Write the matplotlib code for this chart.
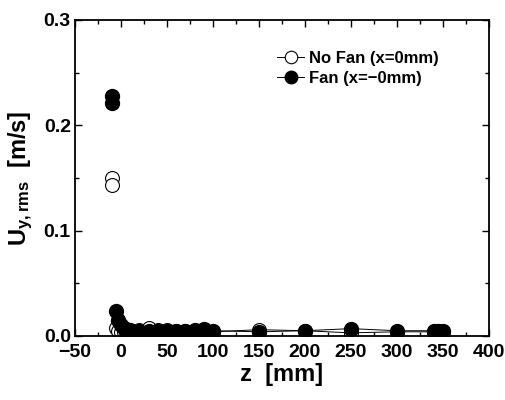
import matplotlib
matplotlib.use("Agg")
import matplotlib.pyplot as plt
from matplotlib.ticker import MultipleLocator, FormatStrFormatter

# Data
z_nofan = [-10, -10, -5, -3, 0, 3, 5, 10, 20, 30, 40, 50, 60, 70, 80, 90, 100, 150, 200, 250, 300, 340, 345, 350]
u_nofan = [0.150, 0.143, 0.008, 0.005, 0.004, 0.004, 0.004, 0.005, 0.006, 0.008, 0.006, 0.006, 0.005, 0.005, 0.005, 0.006, 0.004, 0.006, 0.005, 0.003, 0.004, 0.004, 0.004, 0.004]
z_fan = [-10, -10, -5, -3, 0, 3, 5, 10, 20, 30, 40, 50, 60, 70, 80, 90, 100, 150, 200, 250, 300, 340, 345, 350]
u_fan = [0.228, 0.221, 0.024, 0.015, 0.010, 0.008, 0.006, 0.006, 0.005, 0.005, 0.005, 0.005, 0.005, 0.005, 0.006, 0.007, 0.005, 0.004, 0.005, 0.007, 0.005, 0.005, 0.005, 0.005]

plt.rcParams['font.family'] = ['Liberation Sans', 'DejaVu Sans']
plt.rcParams['mathtext.fontset'] = 'custom'
plt.rcParams['mathtext.rm'] = 'Liberation Sans:bold'
plt.rcParams['mathtext.it'] = 'Liberation Sans:bold'

fig = plt.figure(figsize=(5.05, 4.0), dpi=100)
ax = fig.add_axes([0.1485, 0.16, 0.8195, 0.79])

# lines (upper isolated points are not connected)
ax.plot(z_nofan[2:], u_nofan[2:], '-', color='black', lw=0.7)
ax.plot(z_fan[2:], u_fan[2:], '-', color='black', lw=0.7)
ax.plot(z_nofan, u_nofan, 'o', mfc='white', mec='black', ms=10, mew=0.8)
ax.plot(z_fan, u_fan, 'o', mfc='black', mec='black', ms=10)
# legend proxies
ax.plot([], [], '-o', color='black', lw=0.7, mfc='white', mec='black', mew=0.8, label='No Fan (x=0mm)')
ax.plot([], [], '-o', color='black', lw=0.7, mfc='black', mec='black', label='Fan (x=\u22120mm)')

ax.set_xlim(-50, 400)
ax.set_ylim(0, 0.3)
ax.xaxis.set_major_locator(MultipleLocator(50))
ax.xaxis.set_minor_locator(MultipleLocator(25))
ax.yaxis.set_major_locator(MultipleLocator(0.1))
ax.yaxis.set_minor_locator(MultipleLocator(0.05))
ax.yaxis.set_major_formatter(FormatStrFormatter('%.1f'))
ax.tick_params(which='both', direction='in', top=True, right=True, width=1.0)
ax.tick_params(which='major', length=5, labelsize=14)
ax.tick_params(which='minor', length=3)
ax.tick_params(axis='x', pad=6)
ax.tick_params(axis='y', pad=3)
for lab in ax.get_xticklabels() + ax.get_yticklabels():
    lab.set_fontweight('bold')
for s in ax.spines.values():
    s.set_linewidth(1.3)

ax.set_xlabel('z  [mm]', fontsize=17, fontweight='bold', labelpad=1)
ax.set_ylabel(r'U$_{\mathregular{y,rms}}$  [m/s]', fontsize=17, fontweight='bold', labelpad=6)

leg = ax.legend(loc='upper right', bbox_to_anchor=(0.915, 0.95), frameon=False,
                handlelength=1.6, handletextpad=0.3, labelspacing=0.3,
                prop={'weight': 'bold', 'size': 12})
for h in leg.legend_handles:
    h.set_markersize(9)

fig.savefig('out.png', dpi=100)
